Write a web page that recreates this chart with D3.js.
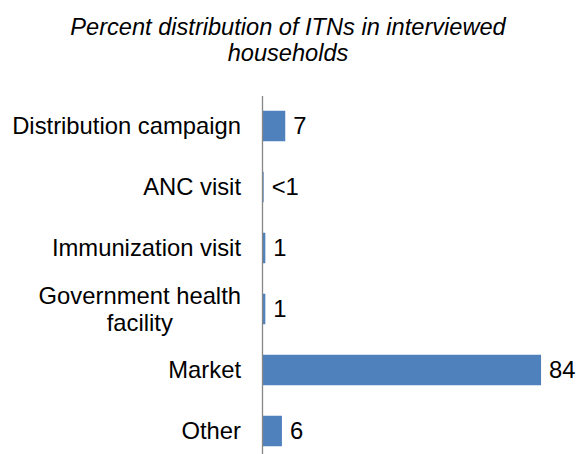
<!DOCTYPE html>
<html>
<head>
<meta charset="utf-8">
<script src="https://cdn.jsdelivr.net/npm/d3@7"></script>
<style>
  html, body { margin: 0; padding: 0; background: #fff; }
  svg { display: block; }
  text { font-family: "Liberation Sans", Arial, sans-serif; fill: #000; }
</style>
</head>
<body>
<svg id="chart" width="577" height="454"></svg>
<script>
// Source of ITNs (percent of nets in interviewed households)
const categories = [
  ["Distribution campaign"],
  ["ANC visit"],
  ["Immunization visit"],
  ["Government health", "facility"],
  ["Market"],
  ["Other"]
];
const values = [7, 0.5, 1, 1, 84, 6];
const valueLabels = ["7", "<1", "1", "1", "84", "6"];
const titleLines = ["Percent distribution of ITNs in interviewed", "households"];

const svg = d3.select("#chart");
const fontSize = 23.8;

const keys = categories.map(c => c.join(" "));
const x = d3.scaleLinear().domain([0, 90]).range([262, 561]);
const y = d3.scaleBand().domain(keys).range([95.5, 461.5]).paddingInner(0.5).paddingOuter(0.25);

// Title
const title = svg.append("text")
  .attr("text-anchor", "middle")
  .attr("font-style", "italic")
  .attr("font-size", 23.6);
titleLines.forEach((t, i) => {
  title.append("tspan").attr("x", 288).attr("y", 35 + i * 25.5).text(t);
});

// Bars
svg.append("g").selectAll("rect")
  .data(values)
  .join("rect")
  .attr("x", x(0))
  .attr("y", (d, i) => y(keys[i]))
  .attr("width", d => x(d) - x(0))
  .attr("height", y.bandwidth())
  .attr("fill", "#4F81BD");

// Category axis line
svg.append("g")
  .attr("transform", `translate(${x(0)},0)`)
  .call(d3.axisLeft(y).tickSize(0).tickFormat(""))
  .call(g => g.select(".domain").attr("stroke", "#868686").attr("stroke-width", 1.3));

// Category labels (multi-line ones centred within their block, block right-aligned)
const labelRight = 241;
const lineGap = 27;
categories.forEach((lines, i) => {
  const cy = y(keys[i]) + y.bandwidth() / 2;
  const t = svg.append("text").attr("font-size", fontSize);
  const n = lines.length;
  lines.forEach((ln, j) => {
    t.append("tspan")
      .attr("y", cy + (j - (n - 1) / 2) * lineGap)
      .attr("dy", "0.35em")
      .text(ln);
  });
  const spans = t.selectAll("tspan").nodes();
  const widest = d3.max(spans, s => s.getComputedTextLength());
  if (n === 1) {
    t.attr("text-anchor", "end");
    t.selectAll("tspan").attr("x", labelRight);
  } else {
    t.attr("text-anchor", "middle");
    t.selectAll("tspan").attr("x", labelRight - widest / 2);
  }
});

// Value labels
svg.append("g").selectAll("text")
  .data(values)
  .join("text")
  .attr("font-size", fontSize)
  .attr("x", d => x(d) + 8)
  .attr("y", (d, i) => y(keys[i]) + y.bandwidth() / 2)
  .attr("dy", "0.35em")
  .text((d, i) => valueLabels[i]);
</script>
</body>
</html>
